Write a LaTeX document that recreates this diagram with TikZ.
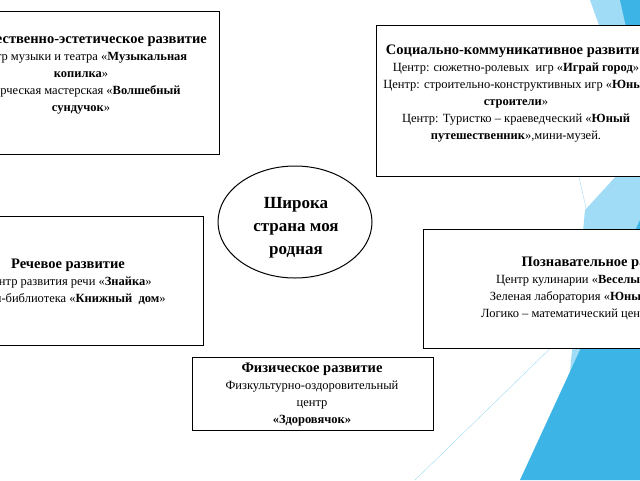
\documentclass[tikz,border=0pt]{standalone}
\usepackage{fontspec}
\setmainfont{Liberation Serif}
\usetikzlibrary{shapes.geometric}
\definecolor{sky}{RGB}{60,180,230}
\definecolor{skyl}{RGB}{160,220,245}
\begin{document}
\begin{tikzpicture}[x=1pt,y=-1pt,
  box/.style={draw,line width=1pt,fill=white},
  txt/.style={align=center,font=\fontsize{12.5}{17}\selectfont,inner sep=0pt}]
\useasboundingbox (0,0) rectangle (640,480);
\clip (0,0) rectangle (640,480);
% background decoration
\fill[skyl] (590,0) -- (640,0) -- (640,140) -- cycle;
\fill[sky] (620,0) -- (640,0) -- (640,90) -- cycle;
\fill[skyl] (585,210) -- (640,150) -- (640,480) -- (560,480) -- cycle;
\fill[sky] (520,480) -- (640,220) -- (640,480) -- cycle;
\draw[skyl] (415,480) -- (600,300);
\draw[skyl] (575,160) -- (590,225);
% boxes
\draw[box] (-100,11) rectangle (219,154);
\draw[box] (376,25) rectangle (660,176);
\draw[box] (-100,216) rectangle (203,345);
\draw[box] (423,229) rectangle (660,348);
\draw[box] (192,357) rectangle (433,430);
\node[draw,line width=1pt,ellipse,minimum width=154pt,minimum height=112pt,inner sep=0pt] (c) at (295,222) {};
\node[txt,font=\fontsize{17}{23}\selectfont\bfseries] (ct) at (296,228) {Широка\\страна моя\\родная};
\node[txt] (tl) at (81,74) {{\fontsize{14.5}{17}\selectfont\bfseries Художественно-эстетическое развитие}\\Центр музыки и театра «\textbf{Музыкальная}\\\textbf{копилка}»\\Творческая мастерская «\textbf{Волшебный}\\\textbf{сундучок}»};
\node[txt] (tr) at (516,94) {{\fontsize{14.5}{17}\selectfont\bfseries Социально-коммуникативное развитие}\\Центр: сюжетно-ролевых\ \ игр «\textbf{Играй город}»\\Центр: строительно-конструктивных игр «\textbf{Юные}\\\textbf{строители}»\\Центр: Туристко – краеведческий «\textbf{Юный}\\\textbf{путешественник}»,мини-музей.};
\node[txt] (ml) at (68,282) {{\fontsize{14.5}{17}\selectfont\bfseries Речевое развитие}\\Центр развития речи «\textbf{Знайка}»\\Мини-библиотека «\textbf{Книжный\ \ дом}»};
\node[txt] (mr) at (606,289) {{\fontsize{14.5}{17}\selectfont\bfseries Познавательное развитие}\\Центр кулинарии «\textbf{Веселый поваренок}»\\Зеленая лаборатория «\textbf{Юный натуралист}»\\Логико – математический центр «\textbf{Почемучка}»};
\node[txt] (bt) at (312,395) {{\fontsize{14.5}{17}\selectfont\bfseries Физическое развитие}\\Физкультурно-оздоровительный\\центр\\\textbf{«Здоровячок»}};
\end{tikzpicture}
\end{document}
